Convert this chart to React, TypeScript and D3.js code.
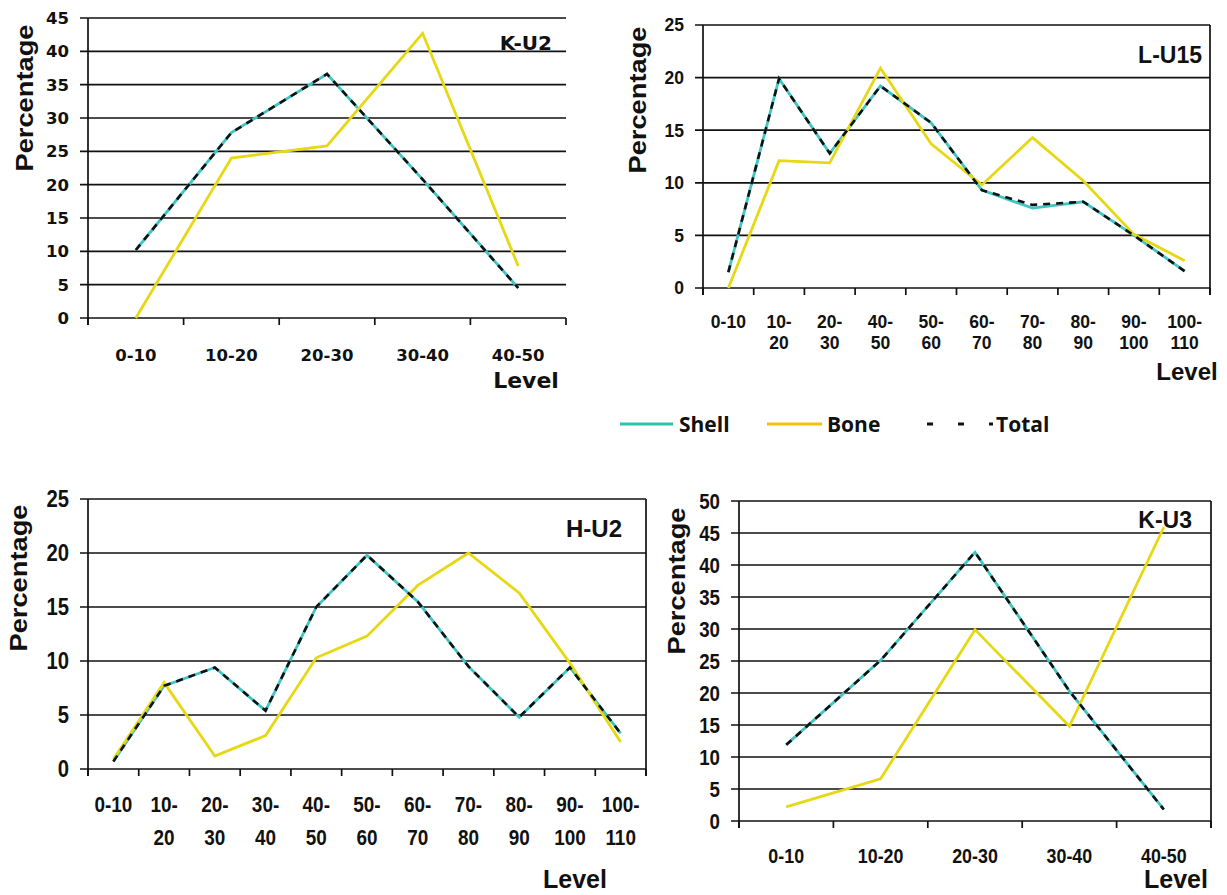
import React from "react";
import * as d3 from "d3";

// level categories
const levels5 = ["0-10", "10-20", "20-30", "30-40", "40-50"];
const levels10 = ["0-10", "10-20", "20-30", "40-50", "50-60", "60-70", "70-80", "80-90", "90-100", "100-110"];
const levels11 = ["0-10", "10-20", "20-30", "30-40", "40-50", "50-60", "60-70", "70-80", "80-90", "90-100", "100-110"];

// K-U2
const kU2Shell = [10.2, 27.8, 36.6, 20.8, 4.5];
const kU2Bone = [0, 24.0, 25.8, 42.7, 7.8];
const kU2Total = [10.2, 27.8, 36.6, 20.8, 4.5];

// L-U15
const lU15Shell = [1.5, 19.9, 12.8, 19.2, 15.7, 9.3, 7.6, 8.2, 5.0, 1.6];
const lU15Bone = [0, 12.1, 11.9, 20.9, 13.7, 9.8, 14.3, 10.2, 5.1, 2.6];
const lU15Total = [1.5, 19.9, 12.8, 19.2, 15.7, 9.3, 7.9, 8.2, 5.0, 1.6];

// H-U2
const hU2Shell = [0.7, 7.7, 9.4, 5.4, 15.0, 19.8, 15.5, 9.5, 4.8, 9.4, 3.3];
const hU2Bone = [0.9, 8.0, 1.2, 3.1, 10.3, 12.3, 17.0, 20.0, 16.3, 9.8, 2.5];
const hU2Total = [0.7, 7.7, 9.4, 5.4, 15.0, 19.8, 15.5, 9.5, 4.8, 9.4, 3.3];

// K-U3
const kU3Shell = [11.9, 25.1, 42.0, 20.3, 1.8];
const kU3Bone = [2.2, 6.6, 29.9, 14.8, 45.9];
const kU3Total = [11.9, 25.1, 42.0, 20.3, 1.8];

const SHELL = "#3fc6c4";
const BONE = "#e6d812";
const ARIAL = "'Liberation Sans', Arial, sans-serif";
const WIDE = "'DejaVu Sans', Verdana, sans-serif";

type PanelProps = {
  title: string;
  cats: string[];
  shell: number[];
  bone: number[];
  total: number[];
  ymax: number;
  left: number;
  right: number;
  top: number;
  bottom: number;
  rightBorder: boolean;
  tickFont: string;
  tickSize: number;
  tickSx: number;
  xFont: string;
  xSize: number;
  xSx: number;
  xLabelY: number;
  lineGap: number;
  titleFont: string;
  titleSize: number;
  titleX: number;
  titleY: number;
  yLabelX: number;
  yLabelY: number;
  levelFont: string;
  levelSize: number;
  levelX: number;
  levelY: number;
};

const Panel = (p: PanelProps) => {
  const x = d3.scaleBand().domain(p.cats).range([p.left, p.right]);
  const y = d3.scaleLinear().domain([0, p.ymax]).range([p.bottom, p.top]);
  const cx = (c: string) => (x(c) as number) + x.bandwidth() / 2;
  const line = (vals: number[]) =>
    d3.line<number>().x((d, i) => cx(p.cats[i])).y((d) => y(d))(vals) as string;
  const yTicks = d3.range(0, p.ymax + 0.1, 5);
  const bounds = p.cats.map((c) => x(c) as number).concat([p.right]);

  return (
    <g>
      {yTicks.map((t) => (
        <g key={t}>
          <line x1={p.left - 8} x2={p.right} y1={y(t)} y2={y(t)} stroke="#111" strokeWidth={1.7} />
          <text transform={`translate(${p.left - 19},${y(t)}) scale(${p.tickSx},1)`} dy="0.36em" textAnchor="end"
            fontFamily={p.tickFont} fontWeight="bold" fontSize={p.tickSize} fill="#111">
            {t}
          </text>
        </g>
      ))}
      <line x1={p.left} x2={p.left} y1={p.top} y2={p.bottom + 7} stroke="#111" strokeWidth={1.7} />
      {p.rightBorder && <line x1={p.right} x2={p.right} y1={p.top} y2={p.bottom + 7} stroke="#111" strokeWidth={1.7} />}
      {bounds.map((b, i) => (
        <line key={i} x1={b} x2={b} y1={p.bottom} y2={p.bottom + 7} stroke="#111" strokeWidth={1.7} />
      ))}
      <path d={line(p.shell)} fill="none" stroke={SHELL} strokeWidth={2.8} />
      <path d={line(p.bone)} fill="none" stroke={BONE} strokeWidth={2.8} />
      <path d={line(p.total)} fill="none" stroke="#111" strokeWidth={2.6} strokeDasharray="7,6" />
      {p.cats.map((c) => {
        const parts = c.split("-");
        const twoLine = p.lineGap > 0 && parts[0] !== "0";
        return (
          <text key={c} transform={`translate(${cx(c)},${p.xLabelY}) scale(${p.xSx},1)`} textAnchor="middle"
            fontFamily={p.xFont} fontWeight="bold" fontSize={p.xSize} fill="#111">
            {twoLine ? (
              <>
                <tspan x={0}>{parts[0] + "-"}</tspan>
                <tspan x={0} dy={p.lineGap}>{parts[1]}</tspan>
              </>
            ) : (
              c
            )}
          </text>
        );
      })}
      <text x={p.levelX} y={p.levelY} textAnchor="middle" fontFamily={p.levelFont} fontWeight="bold" fontSize={p.levelSize} fill="#111">
        Level
      </text>
      <text x={p.titleX} y={p.titleY} textAnchor="end" fontFamily={p.titleFont} fontWeight="bold" fontSize={p.titleSize} fill="#111">
        {p.title}
      </text>
      <text
        transform={`translate(${p.yLabelX},${p.yLabelY}) rotate(-90)`}
        textAnchor="middle"
        dy="0.36em"
        fontFamily={ARIAL}
        fontWeight="bold"
        fontSize={23}
        textLength={147}
        lengthAdjust="spacingAndGlyphs"
        fill="#111"
      >
        Percentage
      </text>
    </g>
  );
};

const App = () => {
  return (
    <svg width={1227} height={895} style={{ position: "absolute", left: 0, top: 0, background: "#fff" }}>
      <rect width={1227} height={895} fill="#fff" />
      <Panel title="K-U2" cats={levels5} shell={kU2Shell} bone={kU2Bone} total={kU2Total} ymax={45}
        left={88} right={566} top={18} bottom={318} rightBorder={false}
        tickFont={WIDE} tickSize={16.5} tickSx={1}
        xFont={WIDE} xSize={16.5} xSx={1} xLabelY={361} lineGap={0}
        titleFont={WIDE} titleSize={20} titleX={552} titleY={50}
        yLabelX={25} yLabelY={98}
        levelFont={WIDE} levelSize={22} levelX={526} levelY={388} />
      <Panel title="L-U15" cats={levels10} shell={lU15Shell} bone={lU15Bone} total={lU15Total} ymax={25}
        left={703} right={1210} top={25} bottom={288} rightBorder={true}
        tickFont={ARIAL} tickSize={17.5} tickSx={1}
        xFont={ARIAL} xSize={17.5} xSx={1} xLabelY={328} lineGap={21}
        titleFont={ARIAL} titleSize={23} titleX={1202} titleY={63}
        yLabelX={638} yLabelY={100}
        levelFont={ARIAL} levelSize={24} levelX={1187} levelY={380} />
      <Panel title="H-U2" cats={levels11} shell={hU2Shell} bone={hU2Bone} total={hU2Total} ymax={25}
        left={88} right={646} top={499} bottom={769} rightBorder={true}
        tickFont={ARIAL} tickSize={23} tickSx={0.88}
        xFont={ARIAL} xSize={21.5} xSx={0.88} xLabelY={812} lineGap={33}
        titleFont={ARIAL} titleSize={24} titleX={622} titleY={537}
        yLabelX={19} yLabelY={578}
        levelFont={ARIAL} levelSize={25} levelX={575} levelY={888} />
      <Panel title="K-U3" cats={levels5} shell={kU3Shell} bone={kU3Bone} total={kU3Total} ymax={50}
        left={739} right={1211} top={501} bottom={821} rightBorder={true}
        tickFont={ARIAL} tickSize={22} tickSx={0.85}
        xFont={ARIAL} xSize={21} xSx={0.85} xLabelY={863} lineGap={0}
        titleFont={ARIAL} titleSize={23} titleX={1192} titleY={528}
        yLabelX={677} yLabelY={581}
        levelFont={ARIAL} levelSize={25} levelX={1176} levelY={888} />
      {/* legend */}
      <line x1={620} x2={673} y1={424} y2={424} stroke="#2ec4ac" strokeWidth={3} />
      <text x={679} y={432} fontFamily="'Open Sans', sans-serif" fontWeight="bold" fontSize={21} fill="#111">Shell</text>
      <line x1={767} x2={822} y1={424} y2={424} stroke="#f4c20c" strokeWidth={3} />
      <text x={827} y={432} fontFamily="'Open Sans', sans-serif" fontWeight="bold" fontSize={21} fill="#111">Bone</text>
      <line x1={927} x2={993} y1={424} y2={424} stroke="#111" strokeWidth={3} strokeDasharray="6,25" />
      <text x={996} y={432} fontFamily="'Open Sans', sans-serif" fontWeight="bold" fontSize={21} fill="#111">Total</text>
    </svg>
  );
};

export default App;
